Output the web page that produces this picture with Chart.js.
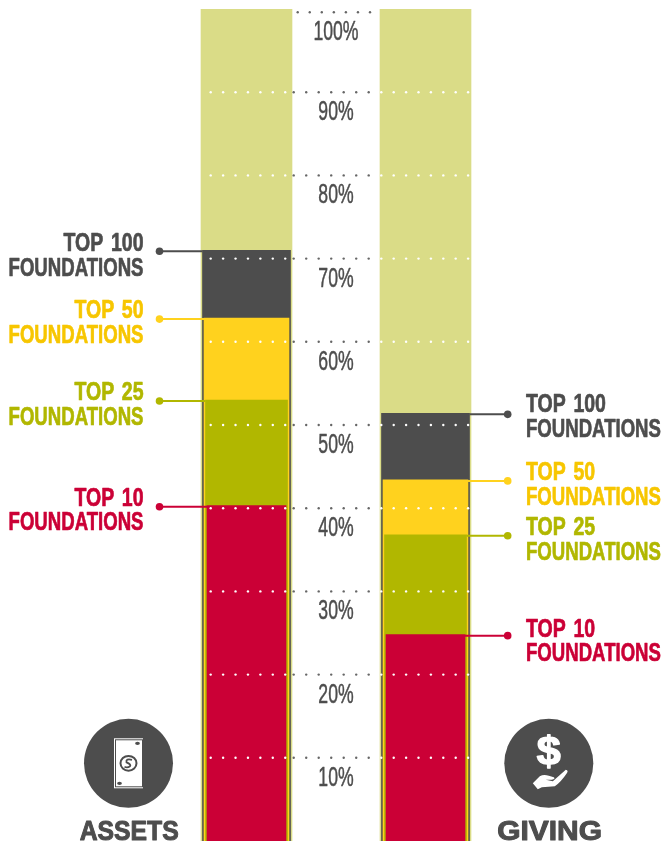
<!DOCTYPE html>
<html><head><meta charset="utf-8">
<style>html,body{margin:0;padding:0;background:#fff}#wrap{width:663px;height:844px}</style>
<script src="https://cdn.jsdelivr.net/npm/chart.js@4"></script>
</head><body><div id="wrap"><canvas id="c" width="663" height="844"></canvas></div>
<script>
// Data (percent share held)
const categories = ['ASSETS', 'GIVING'];
const allFoundations = [100, 100];
const top100 = [71.0, 51.4];
const top50 = [62.85, 43.4];
const top25 = [53.0, 36.8];
const top10 = [40.3, 24.8];
const tickValues = [100, 90, 80, 70, 60, 50, 40, 30, 20, 10];
const tickLabels = ['100%', '90%', '80%', '70%', '60%', '50%', '40%', '30%', '20%', '10%'];
const seriesNames = ['TOP 10', 'TOP 25', 'TOP 50', 'TOP 100'];
const groupWord = 'FOUNDATIONS';

// Styles
const RED = '#cb0036', OLIVE = '#b1b700', YELLOW = '#ffd21e', DARK = '#4d4d4d', LIGHT = '#dadc87';
const TEXT_COLORS = ['#cb0036', '#b1b700', '#f7c600', '#4d4d4d'];
const LINE_COLORS = [RED, OLIVE, YELLOW, DARK];
// baseline shift of each callout's first line relative to its leader, [left, right]
const LABEL_SHIFT = [[-1, 1], [-1, -1], [-1, -1], [0, -2]];
const TITLE_SQUEEZE = [0.9, 1.09];
const NARROW = '"Liberation Sans Narrow","Liberation Sans",sans-serif';

function squeezed(ctx, text, x, y, font, sx, align, color, wordGap, weight) {
  ctx.save();
  ctx.font = font; ctx.fillStyle = color; ctx.textAlign = align; ctx.textBaseline = 'alphabetic';
  if (wordGap) ctx.wordSpacing = wordGap + 'px';
  ctx.translate(x, y); ctx.scale(sx, 1);
  if (weight) { ctx.strokeStyle = color; ctx.lineWidth = weight; ctx.lineJoin = 'round'; ctx.strokeText(text, 0, 0); }
  ctx.fillText(text, 0, 0);
  ctx.restore();
}

function dots(ctx, y, x0, step, n, color) {
  ctx.fillStyle = color;
  for (let i = 0; i < n; i++) {
    ctx.beginPath(); ctx.arc(x0 + i * step, y, 1.2, 0, Math.PI * 2); ctx.fill();
  }
}

function drawNote(ctx, cx, cy) {
  ctx.fillStyle = '#fff'; ctx.fillRect(cx - 14.5, cy - 25, 29, 50);
  ctx.strokeStyle = DARK; ctx.lineWidth = 1; ctx.strokeRect(cx - 13, cy - 23.5, 27, 47);
  ctx.lineWidth = 2; ctx.beginPath(); ctx.ellipse(cx, cy, 8, 7.4, 0, 0, Math.PI * 2); ctx.stroke();
  ctx.lineWidth = 1.8; ctx.beginPath();
  ctx.moveTo(cx + 3.5, cy - 3.5); ctx.quadraticCurveTo(cx - 3, cy - 5, cx - 2, cy - 1);
  ctx.quadraticCurveTo(cx + 3, cy + 1, cx + 1.5, cy + 3); ctx.quadraticCurveTo(cx - 1, cy + 5, cx - 4, cy + 3.5);
  ctx.stroke();
  ctx.fillStyle = DARK;
  ctx.beginPath(); ctx.ellipse(cx + 9, cy - 20, 2.4, 1.6, 0, 0, Math.PI * 2); ctx.fill();
  ctx.beginPath(); ctx.ellipse(cx - 9, cy + 20, 2.4, 1.6, 0, 0, Math.PI * 2); ctx.fill();
}

function drawHand(ctx, cx, cy) {
  ctx.fillStyle = '#fff';
  squeezed(ctx, '$', cx, cy + 2, 'bold 41px "Liberation Sans",sans-serif', 1.05, 'center', '#fff', 0, 1.4);
  const X = v => cx + v, Y = v => cy + v;
  ctx.beginPath();
  ctx.moveTo(X(-16), Y(20));
  ctx.lineTo(X(-9), Y(13));
  ctx.quadraticCurveTo(X(-5), Y(10.5), X(0), Y(12.5));
  ctx.lineTo(X(5), Y(14));
  ctx.quadraticCurveTo(X(7), Y(15.5), X(3), Y(16.5));
  ctx.lineTo(X(-3), Y(16.5));
  ctx.lineTo(X(4), Y(18));
  ctx.lineTo(X(17), Y(6.5));
  ctx.quadraticCurveTo(X(20), Y(7), X(18), Y(10));
  ctx.quadraticCurveTo(X(12), Y(19), X(6), Y(23));
  ctx.lineTo(X(-7), Y(24));
  ctx.lineTo(X(-11), Y(26));
  ctx.closePath();
  ctx.fill();
}

const overlay = {
  id: 'overlay',
  afterDatasetsDraw(chart) {
    const ctx = chart.ctx, y = chart.scales.y, x = chart.scales.x;
    const cL = x.getPixelForValue(0), cR = x.getPixelForValue(1), mid = (cL + cR) / 2;

    // dotted reference lines and percent labels
    tickValues.forEach((v, i) => {
      const p = y.getPixelForValue(v);
      if (v === 100) {
        dots(ctx, p + 3.3, mid - 38.3, 12.05, 7, '#666');
      } else {
        dots(ctx, p, cL - 35.8, 12.42, 7, '#fff');
        dots(ctx, p, mid - 42.3, 12.5, 7, '#666');
        dots(ctx, p, cR - 44.2, 12.4, 8, '#fff');
      }
      squeezed(ctx, tickLabels[i], mid, Math.max(p, 12.3) + 28, '28px ' + NARROW, 0.63, 'center', DARK, 0, 0.5);
    });

    // callouts: leader, dot, two-line label
    seriesNames.forEach((name, s) => {
      const meta = chart.getDatasetMeta(s);
      [0, 1].forEach(col => {
        const bar = meta.data[col], ly = bar.y + 1;
        const edge = col === 0 ? bar.x - bar.width / 2 : bar.x + bar.width / 2;
        const dotX = col === 0 ? cL - 87 : cR + 82.2;
        ctx.strokeStyle = LINE_COLORS[s]; ctx.lineWidth = 2;
        ctx.beginPath(); ctx.moveTo(edge, ly); ctx.lineTo(dotX, ly); ctx.stroke();
        ctx.fillStyle = LINE_COLORS[s];
        ctx.beginPath(); ctx.arc(dotX, ly, 3.8, 0, Math.PI * 2); ctx.fill();
        const tx = col === 0 ? cL - 103 : cR + 100.5;
        const align = col === 0 ? 'right' : 'left';
        const by = ly + LABEL_SHIFT[s][col];
        const font = 'bold 26px ' + NARROW;
        squeezed(ctx, name, tx, by, font, 0.75, align, TEXT_COLORS[s], 3, 0.7);
        squeezed(ctx, groupWord, tx, by + 24.7, font, 0.715, align, TEXT_COLORS[s], 0, 0.7);
      });
    });

    // icon badges and column titles
    [cL - 118, cR + 123.3].forEach((cx, i) => {
      ctx.fillStyle = DARK;
      ctx.beginPath(); ctx.arc(cx, 763.3, 44.5, 0, Math.PI * 2); ctx.fill();
      if (i === 0) drawNote(ctx, cx, 763.3); else drawHand(ctx, cx, 763.3);
      squeezed(ctx, categories[i], cx + (i === 0 ? 0.7 : 0.8), 840, 'bold 27.5px "Liberation Sans",sans-serif', TITLE_SQUEEZE[i], 'center', DARK, 0, 1);
    });
  }
};

const bar = (label, data, color, thickness) => ({
  label, data, backgroundColor: color, barThickness: thickness, grouped: false, borderWidth: 0
});

new Chart(document.getElementById('c'), {
  type: 'bar',
  data: {
    labels: categories,
    datasets: [
      bar('Top 10', top10, RED, 79),
      bar('Top 25', top25, OLIVE, 82),
      bar('Top 50', top50, YELLOW, 85),
      bar('Top 100', top100, DARK, 88),
      bar('All foundations', allFoundations, LIGHT, 91)
    ]
  },
  options: {
    responsive: false,
    animation: false,
    layout: { padding: { top: 9, bottom: 3, left: 157, right: 148 } },
    plugins: { legend: { display: false }, tooltip: { enabled: false }, title: { display: false } },
    scales: {
      x: { display: false, offset: true },
      y: { display: false, min: 0, max: 100, ticks: { stepSize: 10 } }
    }
  },
  plugins: [overlay]
});
</script></body></html>
